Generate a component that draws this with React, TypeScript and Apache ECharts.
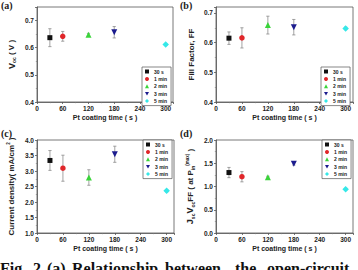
import React, { useEffect, useRef } from 'react';
import * as echarts from 'echarts';

// Pt counter-electrode coating time (s) and sample labels
const coatingTimes = [30, 60, 120, 180, 300];
const sampleNames = ['30 s', '1 min', '2 min', '3 min', '5 min'];
const xTicks = [0, 60, 120, 180, 240, 300];

// (a) open-circuit voltage
const vocMean = [0.637, 0.642, 0.648, 0.657, 0.612];
const vocErr = [0.033, 0.018, 0.005, 0.021, 0.003];
// (b) fill factor
const ffMean = [0.615, 0.616, 0.659, 0.652, 0.648];
const ffErr = [0.021, 0.034, 0.030, 0.026, 0.004];
// (c) short-circuit current density
const jscMean = [3.34, 3.09, 2.79, 3.54, 2.36];
const jscErr = [0.32, 0.42, 0.25, 0.26, 0.03];
// (d) Jsc * Voc * FF
const effMean = [1.30, 1.21, 1.20, 1.49, 0.94];
const effErr = [0.11, 0.11, 0.02, 0.03, 0.02];

const markerColors = ['#111111', '#e0262a', '#3ad43a', '#1c1c8e', '#35e8e8'];
const markerSymbols = ['rect', 'circle', 'triangle', 'path://M0,0L10,0L5,9Z', 'diamond'];
const markerSizes = [5, 5.5, 6, 6, 6.5];

const SANS = '"Liberation Sans", Arial, sans-serif';
const SERIF = '"Liberation Serif", "Times New Roman", serif';

interface Panel {
  tag: string;
  mean: number[];
  err: number[];
  yMin: number;
  yMax: number;
  yStep: number;
  yName: string;
  rich: Record<string, any>;
  grid: { left: number; top: number; width: number; height: number };
  legend: { left: number; top: number };
}

const nameRich = {
  b: { fontSize: 8, fontWeight: 'bold', fontFamily: SANS, color: '#222' },
  big: { fontSize: 9, fontWeight: 'bold', fontFamily: SANS, color: '#222' },
  sub: { fontSize: 5, fontWeight: 'bold', fontFamily: SANS, color: '#222', verticalAlign: 'bottom', padding: [4, 0, 0, 0] },
  sup: { fontSize: 4.5, fontWeight: 'bold', fontFamily: SANS, color: '#222', verticalAlign: 'top', padding: [0, 0, 5, 0] },
};

const panels: Panel[] = [
  {
    tag: '(a)', mean: vocMean, err: vocErr, yMin: 0.4, yMax: 0.75, yStep: 0.1,
    yName: '{big|V}{sub|oc}{b| ( V )}', rich: nameRich,
    grid: { left: 37, top: 7, width: 136, height: 95 },
    legend: { left: 142, top: 67 },
  },
  {
    tag: '(b)', mean: ffMean, err: ffErr, yMin: 0.4, yMax: 0.72, yStep: 0.1,
    yName: '{b|Fill Factor, FF}', rich: nameRich,
    grid: { left: 216, top: 7, width: 137, height: 95 },
    legend: { left: 321, top: 67 },
  },
  {
    tag: '(c)', mean: jscMean, err: jscErr, yMin: 1.0, yMax: 4.0, yStep: 0.5,
    yName: '{b|Current density( mA/cm}{sup|2}{b| )}', rich: nameRich,
    grid: { left: 37, top: 140, width: 137, height: 93 },
    legend: { left: 143, top: 140 },
  },
  {
    tag: '(d)', mean: effMean, err: effErr, yMin: 0, yMax: 2.0, yStep: 0.5,
    yName: '{big|J}{sub|sc}{big|V}{sub|oc}{b|FF ( at P}{sub|in}{sup|(max)}{b| )}', rich: nameRich,
    grid: { left: 216, top: 140, width: 137, height: 93 },
    legend: { left: 322, top: 140 },
  },
];

const captionWords: [string, number][] = [
  ['Fig.', 0], ['2.', 33], ['(a)', 47], ['Relationship', 72],
  ['between', 165], ['the', 235], ['open-circuit', 267],
];

function buildOption() {
  const grids: any[] = [];
  const xAxes: any[] = [];
  const yAxes: any[] = [];
  const series: any[] = [];
  const legends: any[] = [];
  const graphics: any[] = [];

  panels.forEach((p, i) => {
    grids.push({ ...p.grid, show: true, borderColor: '#555', borderWidth: 0.8, backgroundColor: '#fff' });
    xAxes.push({
      type: 'value', gridIndex: i, min: 0, max: 317, interval: 60,
      name: 'Pt coating time ( s )', nameLocation: 'middle', nameGap: 12,
      nameTextStyle: { fontSize: 7, fontWeight: 'bold', fontFamily: SANS, color: '#222' },
      axisLine: { show: true, onZero: false, lineStyle: { color: '#555', width: 0.8 } },
      axisTick: { show: true, length: 2, lineStyle: { color: '#555', width: 0.8 } },
      minorTick: { show: true, splitNumber: 2, length: 1.2, lineStyle: { color: '#777', width: 0.6 } },
      axisLabel: {
        fontSize: 6.5, fontWeight: 'bold', fontFamily: SANS, color: '#222', margin: 3,
        formatter: (v: number) => (xTicks.includes(Math.round(v)) && Math.abs(v - Math.round(v)) < 1e-6 ? String(Math.round(v)) : ''),
      },
      splitLine: { show: false },
    });
    yAxes.push({
      type: 'value', gridIndex: i, min: p.yMin, max: p.yMax, interval: p.yStep,
      name: p.yName, nameLocation: 'middle', nameGap: 21, nameRotate: 90,
      nameTextStyle: { rich: p.rich },
      axisLine: { show: true, onZero: false, lineStyle: { color: '#555', width: 0.8 } },
      axisTick: { show: true, length: 2, lineStyle: { color: '#555', width: 0.8 } },
      minorTick: { show: true, splitNumber: 2, length: 1.2, lineStyle: { color: '#777', width: 0.6 } },
      axisLabel: {
        fontSize: 6.5, fontWeight: 'bold', fontFamily: SANS, color: '#222', margin: 3,
        formatter: (v: number) => {
          const k = (v - p.yMin) / p.yStep;
          return Math.abs(k - Math.round(k)) < 1e-6 ? v.toFixed(1) : '';
        },
      },
      splitLine: { show: false },
    });

    // error bars (mean ± spread) drawn under the markers
    series.push({
      type: 'custom', xAxisIndex: i, yAxisIndex: i, z: 1, silent: true,
      data: coatingTimes.map((t, j) => [t, p.mean[j] - p.err[j], p.mean[j] + p.err[j]]),
      renderItem: (_params: any, api: any) => {
        const x = api.value(0);
        const top = api.coord([x, api.value(2)]);
        const bot = api.coord([x, api.value(1)]);
        const cap = 1.6;
        const st = { stroke: '#8c8c8c', lineWidth: 0.8 };
        return {
          type: 'group',
          children: [
            { type: 'line', shape: { x1: top[0], y1: top[1], x2: bot[0], y2: bot[1] }, style: st },
            { type: 'line', shape: { x1: top[0] - cap, y1: top[1], x2: top[0] + cap, y2: top[1] }, style: st },
            { type: 'line', shape: { x1: bot[0] - cap, y1: bot[1], x2: bot[0] + cap, y2: bot[1] }, style: st },
          ],
        };
      },
    });

    sampleNames.forEach((name, j) => {
      series.push({
        type: 'scatter', name, xAxisIndex: i, yAxisIndex: i, z: 3,
        symbol: markerSymbols[j], symbolSize: markerSizes[j],
        itemStyle: { color: markerColors[j], opacity: 1 },
        data: [[coatingTimes[j], p.mean[j]]],
      });
    });

    legends.push({
      orient: 'vertical', left: p.legend.left, top: p.legend.top,
      itemWidth: 4, itemHeight: 4, itemGap: 2.4, padding: [2, 4, 2, 3],
      borderColor: '#555', borderWidth: 0.7, backgroundColor: '#fff',
      selectedMode: false,
      textStyle: { fontSize: 5, fontWeight: 'bold', fontFamily: SANS, color: '#222' },
      data: sampleNames,
    });

    graphics.push({
      type: 'text',
      left: i % 2 === 0 ? 1 : 180,
      top: i < 2 ? 0 : 128,
      style: { text: p.tag, font: `bold 10px ${SERIF}`, fill: '#222' },
    });
  });

  captionWords.forEach(([word, x]) => {
    graphics.push({
      type: 'text', left: x, top: 260,
      style: { text: word, font: `bold 16px ${SERIF}`, fill: '#111' },
    });
  });

  return {
    animation: false,
    backgroundColor: '#fff',
    grid: grids,
    xAxis: xAxes,
    yAxis: yAxes,
    legend: legends,
    series,
    graphic: graphics,
  };
}

export default function App() {
  const ref = useRef<HTMLDivElement>(null);
  useEffect(() => {
    if (!ref.current) return;
    const chart = echarts.init(ref.current, null, { renderer: 'svg' });
    chart.setOption(buildOption());
    return () => chart.dispose();
  }, []);
  return (
    <div
      ref={ref}
      style={{ position: 'fixed', left: 0, top: 0, width: 358, height: 270, background: '#fff' }}
    />
  );
}
